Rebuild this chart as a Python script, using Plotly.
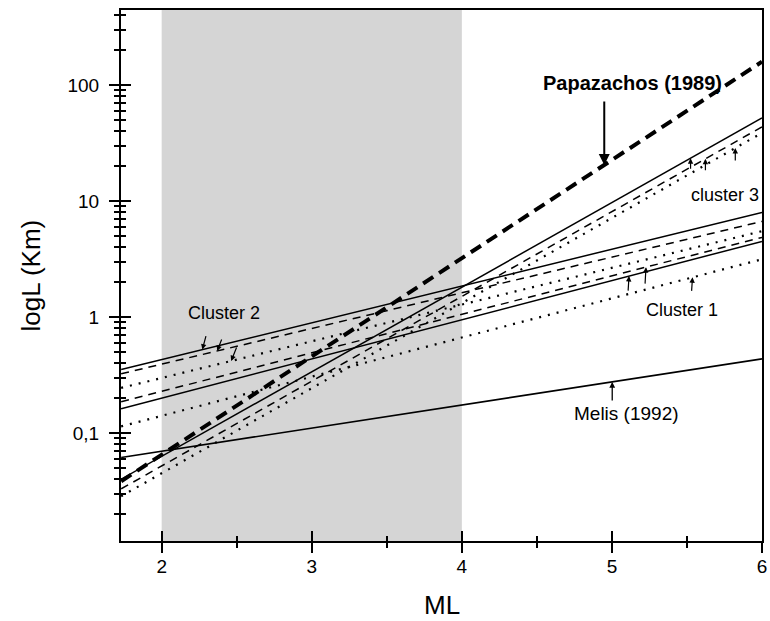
import numpy as np
import plotly.graph_objects as go

# ---- data ----
ML_ENDS = [1.73, 6.0]                      # magnitude at the two ends of each line
papazachos_1989 = [0.0384, 159.0]          # L (km) at ML_ENDS
melis_1992 = [0.0616, 0.436]
cluster1_solid = [0.162, 4.49]
cluster1_dashed = [0.186, 4.86]
cluster1_dotted = [0.114, 3.15]
cluster2_solid = [0.353, 7.97]
cluster2_dashed = [0.324, 6.67]
cluster2_dotted = [0.245, 5.50]
cluster3_solid = [0.040, 52.0]
cluster3_dashed = [0.033, 43.6]
cluster3_dotted = [0.0285, 38.7]

x_tickvals = [2, 3, 4, 5, 6]
x_ticktext = ["2", "3", "4", "5", "6"]
x_minor = [2.5, 3.5, 4.5, 5.5]
y_tickvals = [0.1, 1, 10, 100]
y_ticktext = ["0,1", "1", "10", "100"]
y_minor = [0.02, 0.03, 0.04, 0.05, 0.06, 0.07, 0.08, 0.09,
           0.2, 0.3, 0.4, 0.5, 0.6, 0.7, 0.8, 0.9,
           2, 3, 4, 5, 6, 7, 8, 9,
           20, 30, 40, 50, 60, 70, 80, 90,
           200, 300, 400]

X_RANGE = [1.729, 6.0]
Y_RANGE = [-1.931, 2.647]   # log10 units
FONT = "Arial, Liberation Sans, sans-serif"

DOT = "2px,7px"
DASH = "8px,6px"

series = [
    (cluster2_solid, "solid", 1.5), (cluster2_dashed, DASH, 1.5), (cluster2_dotted, DOT, 2.2),
    (cluster1_solid, "solid", 1.5), (cluster1_dashed, DASH, 1.5), (cluster1_dotted, DOT, 2.2),
    (cluster3_solid, "solid", 1.5), (cluster3_dashed, DASH, 1.5), (cluster3_dotted, DOT, 2.2),
    (melis_1992, "solid", 1.6),
    (papazachos_1989, "12px,7px", 4),
]

fig = go.Figure()
for vals, dash, w in series:
    fig.add_trace(go.Scatter(x=ML_ENDS, y=vals, mode="lines",
                             line=dict(color="black", width=w, dash=dash),
                             showlegend=False, hoverinfo="skip"))

# invisible copy on the overlay axes so that their inward ticks get drawn
fig.add_trace(go.Scatter(x=ML_ENDS, y=melis_1992, mode="lines", xaxis="x2", yaxis="y2",
                         line=dict(width=0), opacity=0, showlegend=False,
                         hoverinfo="skip"))

fig.add_shape(type="rect", xref="x", yref="paper", x0=2, x1=4, y0=0, y1=1,
              fillcolor="#d5d5d5", line=dict(width=0), layer="below")


def on_line(vals, ml):
    return float(np.interp(ml, ML_ENDS, np.log10(vals)))


annotations = []
# text labels
for txt, x, y, size, bold in [
    ("Papazachos (1989)", 5.134, 2.017, 20, True),
    ("cluster 3", 5.755, 1.052, 18, False),
    ("Cluster 1", 5.465, 0.060, 18, False),
    ("Cluster 2", 2.417, 0.0345, 18, False),
    ("Melis (1992)", 5.094, -0.828, 19, False),
]:
    annotations.append(dict(x=x, y=y, xref="x", yref="y", showarrow=False,
                            text=f"<b>{txt}</b>" if bold else txt,
                            font=dict(family=FONT, size=size, color="black")))

# arrows
for vals, ml, ax, ay, w, sz in [
    (papazachos_1989, 4.949, 0, -65, 2, 1.1),
    (melis_1992, 5.002, 0, 20, 1.3, 0.9),
    (cluster1_solid, 5.114, -1, 16, 1.2, 0.9),
    (cluster1_dashed, 5.227, -1, 18, 1.2, 0.9),
    (cluster1_dotted, 5.537, -1, 15, 1.2, 0.9),
    (cluster2_solid, 2.271, 4, -15, 1.2, 0.9),
    (cluster2_dashed, 2.370, 5, -13, 1.2, 0.9),
    (cluster2_dotted, 2.463, 6, -15, 1.2, 0.9),
    (cluster3_solid, 5.524, 0, 12, 1.2, 0.9),
    (cluster3_dashed, 5.623, 0, 13, 1.2, 0.9),
    (cluster3_dotted, 5.822, 0, 14, 1.2, 0.9),
]:
    annotations.append(dict(x=ml, y=on_line(vals, ml), xref="x", yref="y",
                            text="", showarrow=True, ax=ax, ay=ay,
                            arrowhead=2, arrowsize=sz, arrowwidth=w,
                            arrowcolor="black"))

# axis titles
annotations.append(dict(x=0, y=0.5, xref="paper", yref="paper", text="logL (Km)",
                        textangle=-90, showarrow=False, xshift=-91,
                        xanchor="center", yanchor="middle",
                        font=dict(family=FONT, size=26, color="black")))
annotations.append(dict(x=0.5, y=0, xref="paper", yref="paper", text="ML",
                        showarrow=False, yshift=-64,
                        xanchor="center", yanchor="middle",
                        font=dict(family=FONT, size=26, color="black")))

tick_common = dict(tickcolor="black", tickwidth=1.5, showgrid=False, zeroline=False)

fig.update_layout(
    width=770, height=621,
    margin=dict(l=121, r=3, t=10, b=80),
    paper_bgcolor="white", plot_bgcolor="white",
    annotations=annotations,
    xaxis=dict(range=X_RANGE, showline=True, linecolor="black", linewidth=2,
               mirror=True, ticks="outside", ticklen=10,
               tickvals=x_tickvals, ticktext=x_ticktext,
               ticklabelstandoff=-3, ticklabeloverflow="allow",
               tickfont=dict(family=FONT, size=19, color="black"),
               minor=dict(tickmode="array", tickvals=x_minor, ticks="outside",
                          ticklen=5, tickcolor="black", tickwidth=1.5),
               **tick_common),
    xaxis2=dict(range=X_RANGE, overlaying="x", anchor="y", side="bottom",
                showline=False, ticks="inside", ticklen=10, tickvals=x_tickvals,
                showticklabels=False,
                minor=dict(tickmode="array", tickvals=x_minor, ticks="inside",
                           ticklen=5, tickcolor="black", tickwidth=1.5),
                **tick_common),
    yaxis=dict(type="log", range=Y_RANGE, showline=True, linecolor="black",
               linewidth=2, mirror=True, ticks="outside", ticklen=10,
               tickvals=y_tickvals, ticktext=y_ticktext,
               ticklabelstandoff=6,
               tickfont=dict(family=FONT, size=19, color="black"),
               minor=dict(tickmode="array", tickvals=y_minor, ticks="outside",
                          ticklen=5, tickcolor="black", tickwidth=1.5),
               **tick_common),
    yaxis2=dict(type="log", range=Y_RANGE, overlaying="y", anchor="x", side="left",
                showline=False, ticks="inside", ticklen=10, tickvals=y_tickvals,
                showticklabels=False,
                minor=dict(tickmode="array", tickvals=y_minor, ticks="inside",
                           ticklen=5, tickcolor="black", tickwidth=1.5),
                **tick_common),
)

fig.write_html("out.html")
